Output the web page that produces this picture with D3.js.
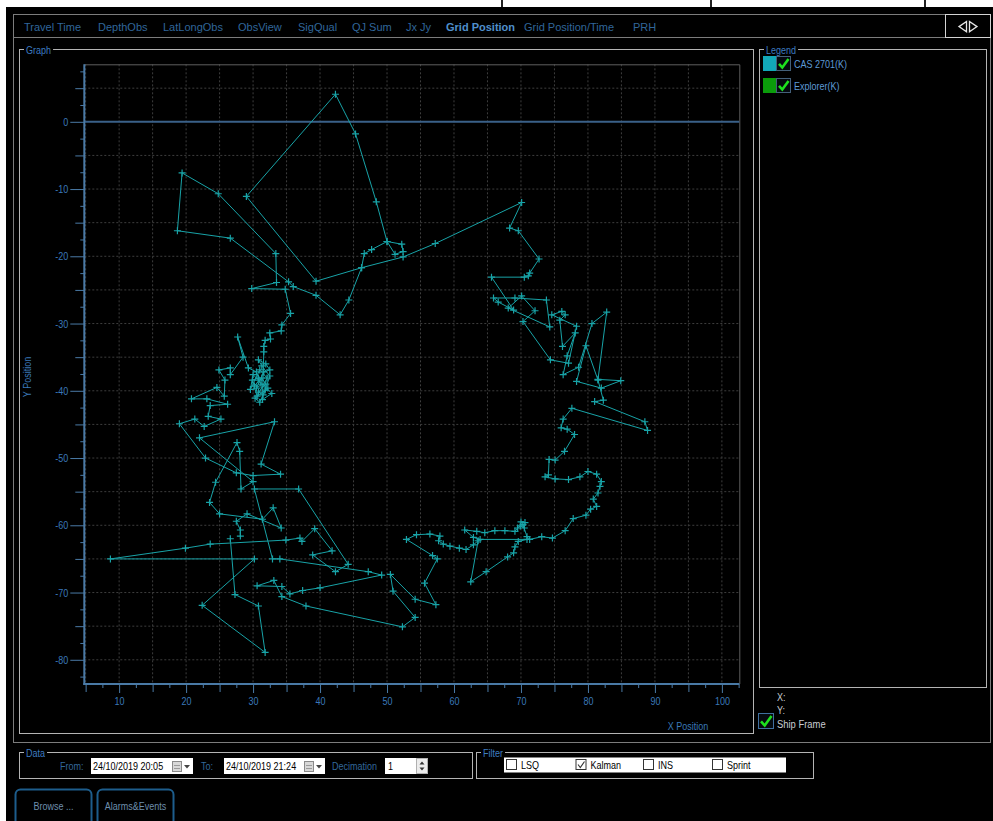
<!DOCTYPE html>
<html><head><meta charset="utf-8">
<script src="https://cdn.jsdelivr.net/npm/d3@7"></script>
<style>
html,body{margin:0;padding:0;background:#000;overflow:hidden;}
svg{display:block;}
</style></head><body>
<svg id="c" width="993" height="821"></svg>
<script>
// ---------------- data ----------------
const tabNames = ["Travel Time","DepthObs","LatLongObs","ObsView","SigQual","QJ Sum","Jx Jy","Grid Position","Grid Position/Time","PRH"];
const activeTab = "Grid Position";
const legendSeries = ["CAS 2701(K)","Explorer(K)"];
const xTickLabels = [10,20,30,40,50,60,70,80,90,100];
const yTickLabels = [0,-10,-20,-30,-40,-50,-60,-70,-80];
const filterNames = ["LSQ","Kalman","INS","Sprint"];
const filterChecked = [false,true,false,false];
const dateFrom = "24/10/2019 20:05";
const dateTo = "24/10/2019 21:24";
const decimation = "1";

// Kalman grid positions (X Position, Y Position), in track order
const gridX = [
28.1,28.1,27.5,29.1,34.2,33.0,31.4,25.0,23.5,24.4,27.6,28.0,28.2,30.0,22.0,33.2,31.2,34.1,30.0,27.5,22.9,19.0,21.3,22.7,25.2,23.3,23.6,26.2,23.1,20.8,24.6,25.7,25.8,24.9,26.6,26.6,28.5,27.7,29.3,
30.5,30.9,30.2,31.3,31.9,30.8,31.5,32.2,30.3,31.0,31.8,32.5,31.3,30.8,31.9,32.5,31.6,30.5,31.2,30.8,29.9,30.6,32.1,31.0,29.6,30.0,32.8,31.4,
31.6,31.6,31.8,32.6,32.5,34.2,34.3,35.6,34.8,29.8,33.5,33.4,24.8,19.4,18.7,26.6,35.3,36.0,39.4,43.0,44.3,46.2,46.6,47.7,50.0,52.2,52.4,51.2,50.0,48.4,45.3,42.3,29.0,39.4,46.2,52.4,57.2,
70.1,68.3,69.6,72.7,71.3,71.1,70.5,65.6,68.9,66.6,65.9,69.1,73.8,74.3,68.1,70.1,72.1,70.3,74.4,77.1,78.3,74.6,76.1,76.6,75.8,76.2,78.1,76.9,76.3,78.6,80.6,82.8,81.5,84.9,82.0,78.3,79.7,81.5,82.3,81.0,88.5,88.9,77.6,76.3,76.0,76.9,78.0,76.5,75.1,74.2,74.1,73.6,75.1,77.1,78.8,80.0,81.3,82.0,81.8,81.5,80.8,81.3,80.4,79.7,77.8,76.6,74.7,73.1,71.3,70.9,70.3,70.0,70.6,70.5,69.9,69.5,69.1,67.6,66.1,64.6,63.4,61.6,62.9,63.9,70.9,69.6,69.1,68.9,68.0,64.8,62.5,63.6,62.9,61.8,60.8,59.4,58.4,57.7,57.9,56.4,54.4,52.9,56.8,57.5,55.6,57.3,54.2,50.5,50.9,54.2,52.3,37.9,34.3,33.1,30.6,34.3,35.5,37.4,40.0,49.2,47.2,34.0,32.9,30.2,36.8,44.2,42.3,38.9,41.8,39.2,37.3,37.0,34.9,23.6,19.9,8.7,30.2,22.4,31.8,30.8,27.3,26.6
];
const gridY = [
-61.6,-60.7,-59.4,-58.3,-60.4,-57.4,-59.1,-58.3,-56.6,-53.6,-47.7,-49.0,-54.6,-53.5,-47.0,-44.6,-50.9,-52.4,-52.6,-52.2,-50.0,-44.9,-44.2,-45.3,-44.2,-43.8,-42.2,-42.0,-41.2,-41.2,-39.5,-40.8,-38.4,-36.9,-36.6,-37.6,-35.0,-32.0,-36.6,
-37.2,-38.4,-39.3,-38.1,-39.0,-40.2,-40.6,-39.6,-41.1,-41.7,-39.9,-37.8,-36.3,-35.4,-36.0,-36.9,-37.2,-39.6,-39.1,-38.1,-38.4,-40.8,-38.1,-36.9,-39.8,-37.6,-40.4,-41.3,
-34.2,-33.4,-32.5,-32.3,-31.4,-31.1,-30.2,-28.5,-24.9,-24.8,-23.9,-19.6,-10.7,-7.6,-16.2,-17.3,-23.8,-24.5,-25.8,-28.7,-26.5,-21.7,-19.6,-19.0,-17.8,-18.2,-19.3,-19.7,-17.8,-11.9,-1.8,4.1,-11.1,-23.7,-21.7,-20.1,-18.1,
-12.0,-15.8,-16.2,-20.4,-22.5,-22.9,-23.1,-23.1,-28.0,-26.8,-26.2,-26.2,-26.5,-30.5,-27.7,-25.9,-28.1,-29.7,-35.4,-35.9,-30.4,-28.7,-28.2,-28.7,-29.5,-33.4,-31.4,-34.8,-37.6,-36.5,-30.0,-28.3,-38.3,-38.5,-39.6,-38.6,-33.3,-38.4,-41.4,-41.6,-44.6,-45.9,-42.6,-44.2,-45.5,-45.7,-46.5,-49.0,-50.3,-50.2,-52.5,-52.8,-53.1,-53.2,-52.8,-52.0,-52.4,-53.5,-54.2,-55.2,-56.1,-57.2,-57.6,-58.5,-59.0,-60.8,-61.9,-61.7,-62.1,-61.7,-59.9,-59.5,-59.6,-60.4,-60.1,-60.4,-60.9,-60.8,-60.8,-61.1,-60.9,-60.7,-61.8,-62.1,-62.1,-62.4,-63.2,-64.1,-64.7,-66.9,-68.4,-62.3,-62.9,-63.6,-63.4,-63.1,-62.8,-62.3,-61.6,-61.3,-61.4,-62.1,-64.5,-65.0,-68.6,-71.8,-71.0,-67.3,-69.8,-73.7,-75.1,-72.0,-70.6,-68.2,-69.0,-69.1,-70.2,-69.7,-69.3,-67.4,-66.9,-65.0,-65.0,-54.6,-54.6,-65.8,-66.9,-64.4,-63.8,-60.5,-62.4,-61.9,-62.2,-62.8,-63.4,-65.0,-65.0,-71.9,-78.9,-72.0,-70.3,-62.0
];

// ---------------- layout / style ----------------
const W = 993, H = 821;
const SANS = "'Liberation Sans',Arial,sans-serif";
const SQ = 0.82; // horizontal squeeze to mimic the narrow UI font
const BLUE_TXT = "#3a78b8";
const DIM_TXT = "#33689a";
const TRACE = "#18a3a7";
const BOX = "#b4b4b4";

const svg = d3.select("#c");
svg.append("rect").attr("width",W).attr("height",H).attr("fill","#fff");
svg.append("rect").attr("x",6).attr("y",7).attr("width",W-6).attr("height",H-7).attr("fill","#000");
[501,710,924].forEach(x=>svg.append("rect").attr("x",x).attr("y",0).attr("width",2).attr("height",7).attr("fill","#222"));

// narrow text helper
function ntext(xp,yp,str,size,fill,anchor){
  return svg.append("text").attr("transform",`translate(${xp},${yp}) scale(${SQ},1)`)
    .attr("text-anchor",anchor||"start").text(str)
    .attr("font-family",SANS).attr("font-size",size).attr("fill",fill);
}

// tab container
svg.append("rect").attr("x",13.5).attr("y",14.5).attr("width",977).attr("height",728).attr("fill","none").attr("stroke","#7c7c7c");
svg.append("line").attr("x1",13.5).attr("x2",945).attr("y1",37.5).attr("y2",37.5).attr("stroke","#7c7c7c");
svg.append("rect").attr("x",945.5).attr("y",14.5).attr("width",45).attr("height",23).attr("fill","#000").attr("stroke","#d4d4d4");
svg.append("path").attr("d","M966.5,21.5 L959,26.6 L966.5,31.7 Z M969.5,21.5 L977,26.6 L969.5,31.7 Z").attr("fill","none").attr("stroke","#e6e6e6").attr("stroke-width",1.3);

const tabX = [24,98,163,238,298,352,406,446,524,633];
tabNames.forEach((t,i)=>{
  svg.append("text").attr("x",tabX[i]).attr("y",30.5).text(t)
    .attr("font-family",SANS).attr("font-size",11)
    .attr("font-weight",t===activeTab?"bold":"normal")
    .attr("fill",t===activeTab?"#4f8fcc":"#30669a");
});

function groupBox(x0,y0,x1,y1,label){
  svg.append("rect").attr("x",x0+.5).attr("y",y0+.5).attr("width",x1-x0).attr("height",y1-y0).attr("fill","none").attr("stroke",BOX);
  const bg = svg.append("rect").attr("x",x0+5).attr("y",y0-3).attr("height",7).attr("fill","#000");
  const t = ntext(x0+7,y0+4.5,label,11,"#3d7cc0");
  bg.attr("width",t.node().getComputedTextLength()*SQ+4);
}
groupBox(19,49,753,733,"Graph");
groupBox(759,49,986,687,"Legend");
groupBox(19,752,472,778,"Data");
groupBox(476,752,813,778,"Filter");

// ---------------- chart ----------------
const x = d3.scaleLinear().domain([4.8,102.6]).range([84.3,739.3]);
const y = d3.scaleLinear().domain([8.55,-83.6]).range([64.3,684]);
const plot = svg.append("g");

const gx = d3.range(5,102.6,5), gy = d3.range(5,-83.6,-5).filter(v=>v!==0);
plot.selectAll(".gv").data(gx).join("line").attr("x1",d=>x(d)).attr("x2",d=>x(d)).attr("y1",y(8.55)).attr("y2",y(-83.6))
  .attr("stroke","#3d3d3d").attr("stroke-dasharray","2,2");
plot.selectAll(".gh").data(gy).join("line").attr("y1",d=>y(d)).attr("y2",d=>y(d)).attr("x1",x(4.8)).attr("x2",x(102.6))
  .attr("stroke","#3d3d3d").attr("stroke-dasharray","2,2");
plot.append("path").attr("d",`M${x(4.8)},${y(8.55)+.5}H${x(102.6)+.5}V${y(-83.6)}`).attr("fill","none").attr("stroke","#5e5e5e");
plot.append("line").attr("x1",x(4.8)).attr("x2",x(102.6)).attr("y1",y(0)).attr("y2",y(0)).attr("stroke","#3a6088").attr("stroke-width",2);

// axes
const yAxis = d3.axisLeft(y).tickValues(d3.range(7.5,-83.6,-2.5)).tickSizeInner(14).tickSizeOuter(0)
  .tickFormat(d=>yTickLabels.includes(d)?d:"");
const ya = svg.append("g").attr("transform",`translate(${x(4.8)},0)`).call(yAxis);
ya.select(".domain").remove();
ya.selectAll(".tick line").attr("x2",d=> -(d%10===0?14:(d%5===0?9:4))).attr("stroke","#4a7aa6");
ya.selectAll(".tick text").attr("x",-16/SQ).attr("transform",`scale(${SQ},1)`).attr("font-family",SANS).attr("font-size",11).attr("fill",BLUE_TXT);
svg.append("line").attr("x1",x(4.8)).attr("x2",x(4.8)).attr("y1",y(8.55)).attr("y2",y(-83.6)+1).attr("stroke","#4a7aa6").attr("stroke-width",2);

const xAxis = d3.axisBottom(x).tickValues(d3.range(5,102.6,2.5)).tickSizeInner(9).tickSizeOuter(0)
  .tickFormat(d=>xTickLabels.includes(d)?d:"");
const xa = svg.append("g").attr("transform",`translate(0,${y(-83.6)})`).call(xAxis);
xa.select(".domain").remove();
xa.selectAll(".tick line").attr("y2",d=> d%10===0?9:(d%5===0?8:4)).attr("stroke","#4a7aa6");
xa.selectAll(".tick text").attr("y",13).attr("transform",`scale(${SQ},1)`).attr("font-family",SANS).attr("font-size",11).attr("fill",BLUE_TXT);
svg.append("line").attr("x1",x(4.8)-1).attr("x2",x(102.6)).attr("y1",y(-83.6)).attr("y2",y(-83.6)).attr("stroke","#4a7aa6").attr("stroke-width",2);

svg.append("text").attr("transform",`translate(31,377) rotate(-90) scale(${SQ},1)`).attr("text-anchor","middle").text("Y Position")
  .attr("font-family",SANS).attr("font-size",11).attr("fill",BLUE_TXT);
ntext(688,729.5,"X Position",11,BLUE_TXT,"middle");

// trace
const pts = gridX.map((v,i)=>[v,gridY[i]]);
svg.append("clipPath").attr("id","pc").append("rect").attr("x",x(4.8)).attr("y",y(8.55)).attr("width",x(102.6)-x(4.8)).attr("height",y(-83.6)-y(8.55));
const tr = svg.append("g").attr("clip-path","url(#pc)");
tr.append("path").datum(pts).attr("d",d3.line().x(d=>x(d[0])).y(d=>y(d[1])))
  .attr("fill","none").attr("stroke",TRACE).attr("stroke-width",1);
tr.selectAll(".m").data(pts).join("path")
  .attr("d",d=>{const cx=x(d[0]),cy=y(d[1]);return `M${cx-3.5},${cy}H${cx+3.5}M${cx},${cy-3.5}V${cy+3.5}`;})
  .attr("stroke",TRACE).attr("stroke-width",1.2);

// ---------------- legend ----------------
function greenCheck(x0,y0,w,h,border){
  svg.append("rect").attr("x",x0+.5).attr("y",y0+.5).attr("width",w-1).attr("height",h-1).attr("fill","#050a0f").attr("stroke",border);
  svg.append("path").attr("d",`M${x0+3},${y0+h*0.52} L${x0+w*0.42},${y0+h-3.5} L${x0+w-2.5},${y0+3}`)
    .attr("fill","none").attr("stroke","#1ee01e").attr("stroke-width",2.6);
}
const legendColors = ["#12a8b8","#0b9c0b"];
const legendY = [56,78];
legendSeries.forEach((s,i)=>{
  svg.append("rect").attr("x",763).attr("y",legendY[i]).attr("width",13).attr("height",15).attr("fill",legendColors[i]);
  greenCheck(776,legendY[i],15,15,"#44607a");
  ntext(794,legendY[i]+12,s,11,"#5d9ad6");
});
ntext(777,701,"X:",11,"#c8ccd2");
ntext(777,714,"Y:",11,"#c8ccd2");
greenCheck(758,713,16,16,"#3f6f9f");
ntext(777,727.5,"Ship Frame",11.5,"#c8ccd2");

// ---------------- data box ----------------
ntext(60,769.5,"From:",11,DIM_TXT);
ntext(201,769.5,"To:",11,DIM_TXT);
ntext(332,769.5,"Decimation",11,DIM_TXT);
function dateBox(x0,x1,t){
  svg.append("rect").attr("x",x0).attr("y",758).attr("width",x1-x0).attr("height",16).attr("fill","#fff");
  ntext(x0+2,770,t,11,"#000");
  const ix=x1-21;
  svg.append("rect").attr("x",ix+.5).attr("y",761.5).attr("width",9).attr("height",10).attr("fill","#d8d8d8").attr("stroke","#8a8a8a");
  svg.append("path").attr("d",`M${ix+2},765.5H${ix+8}M${ix+2},768.5H${ix+8}`).attr("stroke","#9a9a9a");
  svg.append("path").attr("d",`M${x1-9},765 L${x1-3},765 L${x1-6},768.5 Z`).attr("fill","#444");
}
dateBox(91,193,dateFrom);
dateBox(224,325,dateTo);
svg.append("rect").attr("x",385).attr("y",758).attr("width",43).attr("height",16).attr("fill","#fff");
ntext(388,770,decimation,11,"#000");
svg.append("rect").attr("x",416.5).attr("y",758.5).attr("width",11).attr("height",15).attr("fill","#ececec").attr("stroke","#b0b0b0");
svg.append("path").attr("d","M419.5,764.5 L424.5,764.5 L422,761.5 Z M419.5,767.5 L424.5,767.5 L422,770.5 Z").attr("fill","#333");

// ---------------- filter box ----------------
svg.append("rect").attr("x",504).attr("y",757.5).attr("width",282).attr("height",15).attr("fill","#fff");
const filterX = [506,575.5,643,712];
filterNames.forEach((f,i)=>{
  svg.append("rect").attr("x",filterX[i]+.5).attr("y",759.5).attr("width",10).attr("height",10).attr("fill","#fff").attr("stroke","#333");
  if(filterChecked[i]) svg.append("path").attr("d",`M${filterX[i]+2.5},764.5 L${filterX[i]+4.8},767.5 L${filterX[i]+9},761.5`).attr("fill","none").attr("stroke","#333").attr("stroke-width",1.1);
  ntext(filterX[i]+15,768.5,f,11,"#000");
});

// ---------------- buttons ----------------
const btns = [["Browse ...",15.5],["Alarms&Events",97.5]];
btns.forEach(([t,bx])=>{
  svg.append("rect").attr("x",bx).attr("y",789.5).attr("width",76).attr("height",40).attr("rx",5).attr("fill","none").attr("stroke","#1d5d8c").attr("stroke-width",2);
  ntext(bx+38,810,t,11,"#6e8fae","middle");
});
</script>
</body></html>
